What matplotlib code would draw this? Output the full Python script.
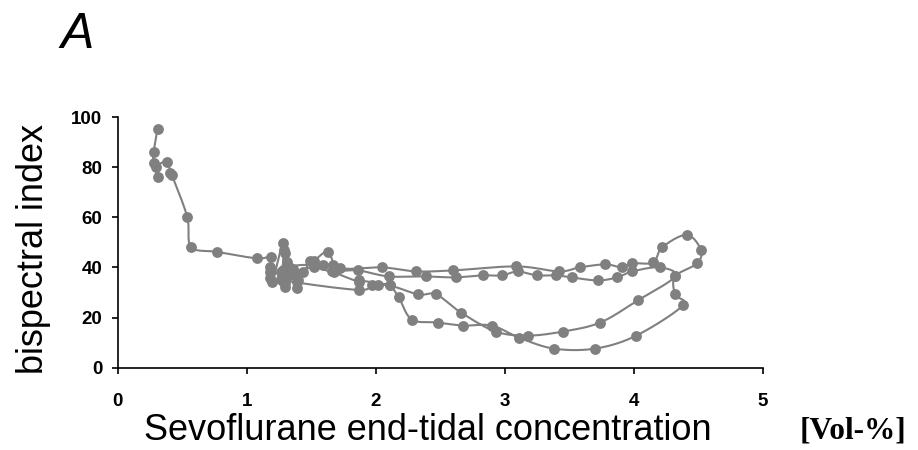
import numpy as np
import matplotlib
matplotlib.use("Agg")
import matplotlib.pyplot as plt

# End-tidal sevoflurane concentration [Vol-%] and bispectral index, in time order
sevo_et = [
    # induction
    0.31, 0.28, 0.28, 0.31, 0.30, 0.38, 0.41, 0.42, 0.54, 0.57, 0.77, 1.08,
    # first steady state
    1.19, 1.18, 1.18, 1.20, 1.28, 1.30, 1.31, 1.28, 1.27, 1.30, 1.36, 1.39,
    1.40, 1.34, 1.44,
    # first excursion: up along the upper band, back through the deep trough
    1.49, 1.52, 1.63, 1.72, 2.05, 2.31, 2.60, 3.09, 3.42, 3.58, 3.78, 3.91,
    3.99, 4.15, 4.22, 4.41, 4.52, 4.49, 4.32, 4.32, 4.38, 4.02, 3.70, 3.38,
    3.11, 2.90, 2.68, 2.48, 2.28, 2.18, 2.11, 2.02, 1.97, 1.87,
    # back to steady state
    1.39, 1.30, 1.29, 1.27, 1.18, 1.30, 1.33, 1.59, 1.67, 1.68, 1.87,
    # second excursion
    1.87, 2.11, 2.33, 2.47, 2.66, 2.93, 3.18, 3.45, 3.74, 4.03, 4.32, 4.20,
    3.99, 3.87, 3.72, 3.52, 3.40, 3.25, 3.10, 2.98, 2.83, 2.62, 2.39, 2.10,
    1.86, 1.66, 1.52, 1.37, 1.31,
]
bis = [
    95.4, 86.2, 81.8, 76.2, 80.0, 82.2, 77.8, 77.0, 60.2, 48.2, 46.2, 43.6,
    44.2, 40.0, 35.8, 34.0, 49.8, 45.8, 42.0, 39.0, 35.2, 33.8, 39.2, 31.8,
    35.0, 36.8, 38.2,
    42.6, 42.6, 46.2, 39.8, 40.0, 38.4, 38.8, 40.4, 38.4, 40.0, 41.2, 40.0,
    41.6, 42.0, 48.0, 53.0, 47.0, 41.6, 36.4, 29.2, 24.8, 12.8, 7.6, 7.6,
    12.0, 16.8, 16.8, 18.0, 19.2, 28.0, 32.8, 32.8, 32.8, 31.0,
    34.0, 36.0, 47.0, 38.0, 38.0, 32.0, 40.0, 41.0, 41.0, 38.2, 34.2,
    34.8, 32.8, 29.2, 29.2, 22.0, 14.4, 12.8, 14.4, 18.0, 26.8, 36.4, 40.0,
    38.4, 36.0, 34.8, 36.0, 36.8, 36.8, 38.4, 36.8, 36.8, 36.0, 36.4, 36.4,
    38.8, 38.4, 40.0, 38.0, 37.0,
]

x_ticks = [0, 1, 2, 3, 4, 5]
y_ticks = [0, 20, 40, 60, 80, 100]

GREY = "#808080"
SANS = ["Liberation Sans", "DejaVu Sans"]

fig = plt.figure(figsize=(9.18, 4.5), dpi=100)
ax = fig.add_axes([0.128, 0.183, 0.703, 0.557])
ax.set_xlim(0, 5)
ax.set_ylim(0, 100)


def smooth_path(ax, xs, ys, n=16):
    """Catmull-Rom curve through the points, computed in display space."""
    pts = ax.transData.transform(np.column_stack([xs, ys]))
    p = np.vstack([pts[0], pts, pts[-1]])
    out = []
    t = np.linspace(0, 1, n, endpoint=False)[:, None]
    for i in range(1, len(p) - 2):
        p0, p1, p2, p3 = p[i - 1], p[i], p[i + 1], p[i + 2]
        seg = 0.5 * ((2 * p1) + (-p0 + p2) * t
                     + (2 * p0 - 5 * p1 + 4 * p2 - p3) * t ** 2
                     + (-p0 + 3 * p1 - 3 * p2 + p3) * t ** 3)
        out.append(seg)
    out.append(p[-2][None, :])
    curve = np.vstack(out)
    return ax.transData.inverted().transform(curve)


curve = smooth_path(ax, sevo_et, bis)
ax.plot(curve[:, 0], curve[:, 1], color=GREY, lw=1.5, zorder=2,
        solid_capstyle="round", solid_joinstyle="round")
ax.plot(sevo_et, bis, linestyle="none", marker="o", markersize=7.8,
        color=GREY, markeredgewidth=0, zorder=3)

for side in ("top", "right"):
    ax.spines[side].set_visible(False)
for side in ("left", "bottom"):
    ax.spines[side].set_linewidth(1.2)
    ax.spines[side].set_color("black")

ax.set_xticks(x_ticks)
ax.set_yticks(y_ticks)
ax.tick_params(direction="out", length=4, width=1.2, colors="black")
ax.tick_params(axis="y", pad=7)
ax.tick_params(axis="x", pad=14)
for lab in ax.get_xticklabels() + ax.get_yticklabels():
    lab.set_fontfamily(SANS)
    lab.set_fontweight("bold")
    lab.set_fontsize(13.5)

fig.text(0.036, 0.447, "bispectral index", rotation=90, ha="center",
         va="center", fontsize=26, family=SANS)
fig.text(0.466, 0.022, "Sevoflurane end-tidal concentration", ha="center",
         va="baseline", fontsize=26, family=SANS)
fig.text(0.871, 0.026, "[Vol-%]", ha="left", va="baseline", fontsize=22.5,
         fontweight="bold", family=["Liberation Serif", "DejaVu Serif"])
fig.text(0.066, 0.893, "A", ha="left", va="baseline", fontsize=36,
         style="italic", family=SANS)

fig.savefig("out.png", dpi=100, facecolor="white")
